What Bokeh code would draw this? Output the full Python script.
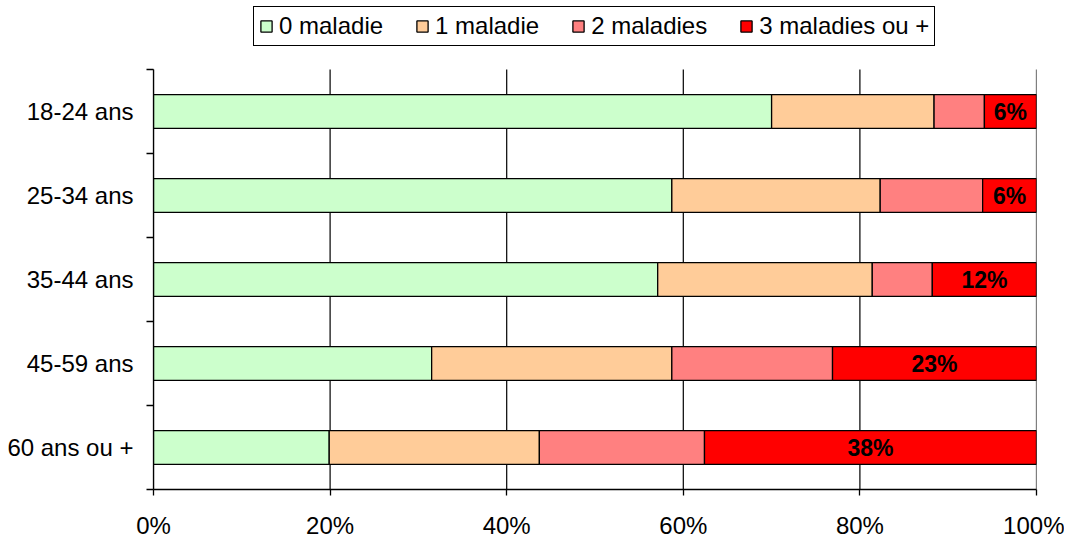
from bokeh.plotting import figure
from bokeh.models import ColumnDataSource, FixedTicker, Legend, LegendItem, PrintfTickFormatter, Range1d
from bokeh.embed import file_html
from bokeh.resources import INLINE
from bokeh.core.properties import value

categories = ["18-24 ans", "25-34 ans", "35-44 ans", "45-59 ans", "60 ans ou +"]
series = ["0 maladie", "1 maladie", "2 maladies", "3 maladies ou +"]
green = [70.0, 58.7, 57.1, 31.5, 19.9]
orange = [18.4, 23.6, 24.3, 27.2, 23.8]
pink = [5.7, 11.6, 6.8, 18.2, 18.7]
red = [5.9, 6.1, 11.8, 23.1, 37.6]
x_ticks = [0, 20, 40, 60, 80, 100]
colors = ["#CCFFCC", "#FFCC99", "#FF8080", "#FF0000"]

FONT = "Liberation Sans"
n = len(categories)
ypos = [n - i - 0.5 for i in range(n)]
boundaries = [float(i) for i in range(n + 1)]

# frame spans the whole top so the legend can sit above the bars
FRAME_H = 489
BARS_H = 420
p = figure(width=1064, height=541, x_range=Range1d(0, 100),
           y_range=Range1d(0, n * FRAME_H / BARS_H),
           output_backend="svg", toolbar_location=None,
           min_border_left=153, min_border_right=28, min_border_top=0, min_border_bottom=52)
p.outline_line_color = None
p.background_fill_color = "white"
p.border_fill_color = "white"

# vertical grid lines limited to the bar area
p.segment(x0=x_ticks, y0=[0] * len(x_ticks), x1=x_ticks, y1=[n] * len(x_ticks),
          line_color="black", line_width=1.2)

all_series = [green, orange, pink, red]
left = [0.0] * n
renderers = []
for name, vals, col in zip(series, all_series, colors):
    right = [l + v for l, v in zip(left, vals)]
    src = ColumnDataSource(dict(y=ypos, left=left, right=right))
    r = p.hbar(y="y", left="left", right="right", height=0.4, source=src,
               fill_color=col, line_color="black", line_width=1.3)
    renderers.append(r)
    left = right

starts = [g + o + pk for g, o, pk in zip(green, orange, pink)]
lab_src = ColumnDataSource(dict(
    x=[s + r / 2 for s, r in zip(starts, red)],
    y=ypos,
    t=["%d%%" % round(r) for r in red]))
p.text(x="x", y="y", text="t", source=lab_src, text_font=value(FONT),
       text_font_style="bold", text_font_size="23px", text_align="center",
       text_baseline="middle", text_color="black")

p.ygrid.grid_line_color = None
p.xgrid.grid_line_color = None

xa = p.xaxis[0]
xa.ticker = FixedTicker(ticks=x_ticks)
xa.formatter = PrintfTickFormatter(format="%d%%")
xa.major_tick_out = 6
xa.major_tick_in = 0
xa.minor_tick_out = 0
xa.minor_tick_in = 0
xa.axis_line_color = "black"
xa.axis_line_width = 1.3
xa.major_tick_line_color = "black"
xa.major_tick_line_width = 1.3
xa.major_label_text_font = FONT
xa.major_label_text_font_size = "24px"
xa.major_label_text_color = "black"
xa.major_label_standoff = 16

ya = p.yaxis[0]
ya.bounds = (0, n)
ya.ticker = FixedTicker(ticks=ypos, minor_ticks=boundaries)
ya.major_label_overrides = {y: c for y, c in zip(ypos, categories)}
ya.major_tick_out = 0
ya.major_tick_in = 0
ya.minor_tick_out = 7
ya.minor_tick_in = 0
ya.minor_tick_line_color = "black"
ya.minor_tick_line_width = 1.3
ya.axis_line_color = "black"
ya.axis_line_width = 1.3
ya.major_label_text_font = FONT
ya.major_label_text_font_size = "24px"
ya.major_label_text_color = "black"
ya.major_label_standoff = 13

legend = Legend(items=[LegendItem(label=s, renderers=[r]) for s, r in zip(series, renderers)],
                orientation="horizontal", location=(100, FRAME_H - 46),
                border_line_color="black", border_line_width=1.3, border_line_alpha=1,
                label_text_font=FONT, label_text_font_size="24px", label_text_color="black",
                glyph_width=14, glyph_height=14, label_standoff=6,
                spacing=32, padding=5, margin=0,
                background_fill_color="white", background_fill_alpha=1)
p.add_layout(legend)

open("out.html", "w").write(file_html(p, INLINE))
